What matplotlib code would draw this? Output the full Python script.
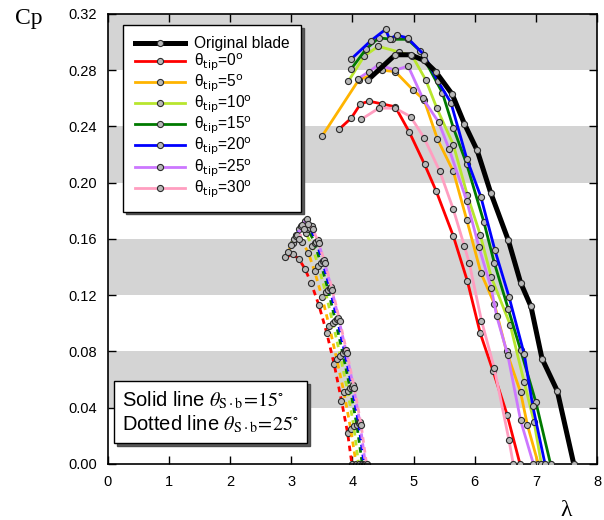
import numpy as np
import matplotlib
matplotlib.use("Agg")
import matplotlib.pyplot as plt
from matplotlib.lines import Line2D

# Cp vs tip speed ratio, shroud/blade angle 15 deg (solid) and 25 deg (dotted)
orig_x = [4.25, 4.70, 4.95, 5.17, 5.36, 5.63, 5.83, 6.04, 6.26, 6.55, 6.75, 6.92, 7.10, 7.35, 7.62]
orig_y = [0.273, 0.291, 0.291, 0.287, 0.279, 0.263, 0.242, 0.223, 0.193, 0.159, 0.129, 0.112, 0.075, 0.052, 0.0]

t0_x = [3.78, 3.98, 4.13, 4.27, 4.49, 4.70, 4.93, 5.18, 5.37, 5.65, 5.88, 6.09, 6.30, 6.53, 6.74]
t0_y = [0.238, 0.246, 0.256, 0.258, 0.256, 0.254, 0.236, 0.213, 0.194, 0.162, 0.130, 0.093, 0.066, 0.035, 0.0]

t5_x = [3.50, 4.10, 4.49, 4.70, 4.99, 5.17, 5.39, 5.65, 5.87, 6.10, 6.32, 6.52, 6.75, 6.86, 7.04]
t5_y = [0.233, 0.273, 0.280, 0.279, 0.266, 0.259, 0.231, 0.208, 0.1735, 0.136, 0.114, 0.080, 0.051, 0.028, 0.0]

t10_x = [3.93, 4.19, 4.42, 4.76, 4.98, 5.20, 5.38, 5.65, 5.88, 6.09, 6.27, 6.58, 6.81, 6.97, 7.09]
t10_y = [0.272, 0.290, 0.297, 0.293, 0.290, 0.273, 0.253, 0.227, 0.191, 0.163, 0.133, 0.099, 0.058, 0.030, 0.0]

t15_x = [3.98, 4.22, 4.43, 4.65, 4.90, 5.10, 5.47, 5.65, 5.87, 6.15, 6.32, 6.55, 6.75, 7.00, 7.24]
t15_y = [0.281, 0.295, 0.303, 0.302, 0.302, 0.294, 0.264, 0.239, 0.213, 0.172, 0.143, 0.110, 0.081, 0.044, 0.0]

t20_x = [3.98, 4.30, 4.54, 4.61, 4.72, 4.90, 5.17, 5.40, 5.61, 5.87, 6.10, 6.33, 6.56, 6.81, 6.95, 7.15]
t20_y = [0.288, 0.301, 0.309, 0.302, 0.305, 0.303, 0.291, 0.272, 0.257, 0.217, 0.190, 0.152, 0.119, 0.078, 0.041, 0.0]

t25_x = [4.09, 4.27, 4.43, 4.70, 4.91, 5.15, 5.41, 5.58, 5.87, 6.07, 6.27, 6.36, 6.54, 6.75, 6.96]
t25_y = [0.274, 0.279, 0.284, 0.280, 0.283, 0.260, 0.243, 0.224, 0.187, 0.154, 0.125, 0.105, 0.0775, 0.031, 0.0]

t30_x = [4.14, 4.43, 4.70, 4.95, 5.17, 5.43, 5.65, 5.83, 5.91, 6.11, 6.32, 6.56, 6.63]
t30_y = [0.245, 0.253, 0.253, 0.247, 0.232, 0.208, 0.181, 0.155, 0.143, 0.102, 0.068, 0.017, 0.0]

# 25 deg runs
d0_x = [2.90, 3.02, 3.12, 3.22, 3.32, 3.45, 3.58, 3.70, 3.82, 3.92, 3.99]
d0_y = [0.147, 0.149, 0.146, 0.139, 0.129, 0.113, 0.093, 0.071, 0.045, 0.022, 0.0]
d5_x = [2.95, 3.02, 3.10, 3.18, 3.28, 3.38, 3.50, 3.62, 3.74, 3.86, 3.97, 4.06]
d5_y = [0.151, 0.157, 0.161, 0.158, 0.150, 0.137, 0.119, 0.098, 0.075, 0.051, 0.025, 0.0]
d10_x = [3.00, 3.08, 3.16, 3.24, 3.34, 3.44, 3.56, 3.68, 3.80, 3.92, 4.02, 4.10]
d10_y = [0.156, 0.163, 0.168, 0.164, 0.155, 0.141, 0.122, 0.100, 0.077, 0.052, 0.027, 0.0]
d15_x = [3.05, 3.13, 3.20, 3.28, 3.38, 3.48, 3.60, 3.72, 3.84, 3.96, 4.07, 4.16]
d15_y = [0.160, 0.167, 0.171, 0.167, 0.157, 0.143, 0.124, 0.102, 0.079, 0.054, 0.028, 0.0]
d20_x = [3.08, 3.16, 3.23, 3.31, 3.41, 3.51, 3.63, 3.75, 3.87, 3.99, 4.10, 4.19]
d20_y = [0.162, 0.169, 0.173, 0.168, 0.158, 0.144, 0.125, 0.103, 0.080, 0.055, 0.029, 0.0]
d25_x = [3.10, 3.18, 3.25, 3.33, 3.43, 3.53, 3.65, 3.77, 3.89, 4.01, 4.12, 4.21]
d25_y = [0.163, 0.170, 0.174, 0.169, 0.159, 0.145, 0.126, 0.104, 0.081, 0.056, 0.030, 0.0]
d30_x = [3.12, 3.20, 3.27, 3.35, 3.45, 3.55, 3.67, 3.79, 3.91, 4.03, 4.14, 4.23]
d30_y = [0.160, 0.167, 0.171, 0.167, 0.157, 0.143, 0.124, 0.102, 0.079, 0.054, 0.028, 0.0]

tip_angles = [0, 5, 10, 15, 20, 25, 30]
colors = ['#ff0000', '#ffb400', '#b8e62e', '#007a00', '#0000ff', '#cc77ff', '#ff9ec0']
solid = [(t0_x, t0_y), (t5_x, t5_y), (t10_x, t10_y), (t15_x, t15_y),
         (t20_x, t20_y), (t25_x, t25_y), (t30_x, t30_y)]
dotted = [(d0_x, d0_y), (d5_x, d5_y), (d10_x, d10_y), (d15_x, d15_y),
          (d20_x, d20_y), (d25_x, d25_y), (d30_x, d30_y)]

xticks = [0, 1, 2, 3, 4, 5, 6, 7, 8]
yticks = [0.00, 0.04, 0.08, 0.12, 0.16, 0.20, 0.24, 0.28, 0.32]

sans = 'Liberation Sans'
mk = dict(marker='o', markersize=4.4, markerfacecolor='#b8b8b8',
          markeredgecolor='#2a2a2a', markeredgewidth=0.8)

fig = plt.figure(figsize=(6.04, 5.2), dpi=100)
ax = fig.add_axes([0.1788, 0.1077, 0.8096, 0.8654])

# alternating grey bands
for lo in [0.04, 0.12, 0.20, 0.28]:
    ax.axhspan(lo, lo + 0.04, color='#d4d4d4', lw=0, zorder=0)

for (x, y), c in zip(dotted, colors):
    ax.plot(x, y, color=c, lw=2.0, linestyle=(0, (2.0, 1.6)), zorder=2, **mk)

handles = []
for (x, y), c, a in zip(solid, colors, tip_angles):
    h, = ax.plot(x, y, color=c, lw=2.0, zorder=3,
                 label='θ$_{\\mathrm{tip}}$=%d$^{\\mathrm{o}}$' % a, **mk)
    handles.append(h)
hb, = ax.plot(orig_x, orig_y, color='black', lw=3.6, zorder=4, label='Original blade', **mk)
handles.insert(0, hb)

ax.set_xlim(0, 8)
ax.set_ylim(0, 0.32)
ax.set_xticks(xticks)
ax.set_xticklabels([str(v) for v in xticks])
ax.set_yticks(yticks)
ax.set_yticklabels(['%.2f' % v for v in yticks])
ax.tick_params(direction='in', length=6, width=1, top=True, right=True,
               labelsize=10.5, pad=8)
for lab in ax.get_xticklabels() + ax.get_yticklabels():
    lab.set_family(sans)
for s in ax.spines.values():
    s.set_linewidth(1.2)

leg = ax.legend(handles=handles, loc='upper left', bbox_to_anchor=(0.031, 0.976),
                borderaxespad=0, fancybox=False, edgecolor='black', framealpha=1,
                shadow={'facecolor': '#5a5a5a', 'alpha': 1}, handlelength=3.2,
                handletextpad=0.6, labelspacing=0.0, borderpad=0.75,
                prop={'family': sans, 'size': 11.2})
leg.get_frame().set_linewidth(1.0)
for t in leg.get_texts():
    t.set_math_fontfamily('dejavusans')
ax.add_artist(leg)

blank = [Line2D([], [], alpha=0), Line2D([], [], alpha=0)]
leg2 = ax.legend(handles=blank,
                 labels=[r'Solid line $\theta_{\mathrm{S\cdot b}}\!=\!15^{\circ}$',
                         r'Dotted line $\theta_{\mathrm{S\cdot b}}\!=\!25^{\circ}$'],
                 loc='lower left', bbox_to_anchor=(0.012, 0.047), borderaxespad=0,
                 fancybox=False, edgecolor='black', framealpha=1,
                 shadow={'facecolor': '#5a5a5a', 'alpha': 1},
                 handlelength=0, handletextpad=0, labelspacing=0.1, borderpad=0.4,
                 prop={'family': sans, 'size': 14.5})
leg2.get_frame().set_linewidth(1.0)
for t in leg2.get_texts():
    t.set_math_fontfamily('stix')

fig.text(0.025, 0.965, 'Cp', family='Liberation Serif', fontsize=17, va='center', ha='left')
fig.text(0.937, 0.018, 'λ', family='Liberation Serif', fontsize=17, va='center', ha='center')

fig.savefig('out.png', dpi=100)
